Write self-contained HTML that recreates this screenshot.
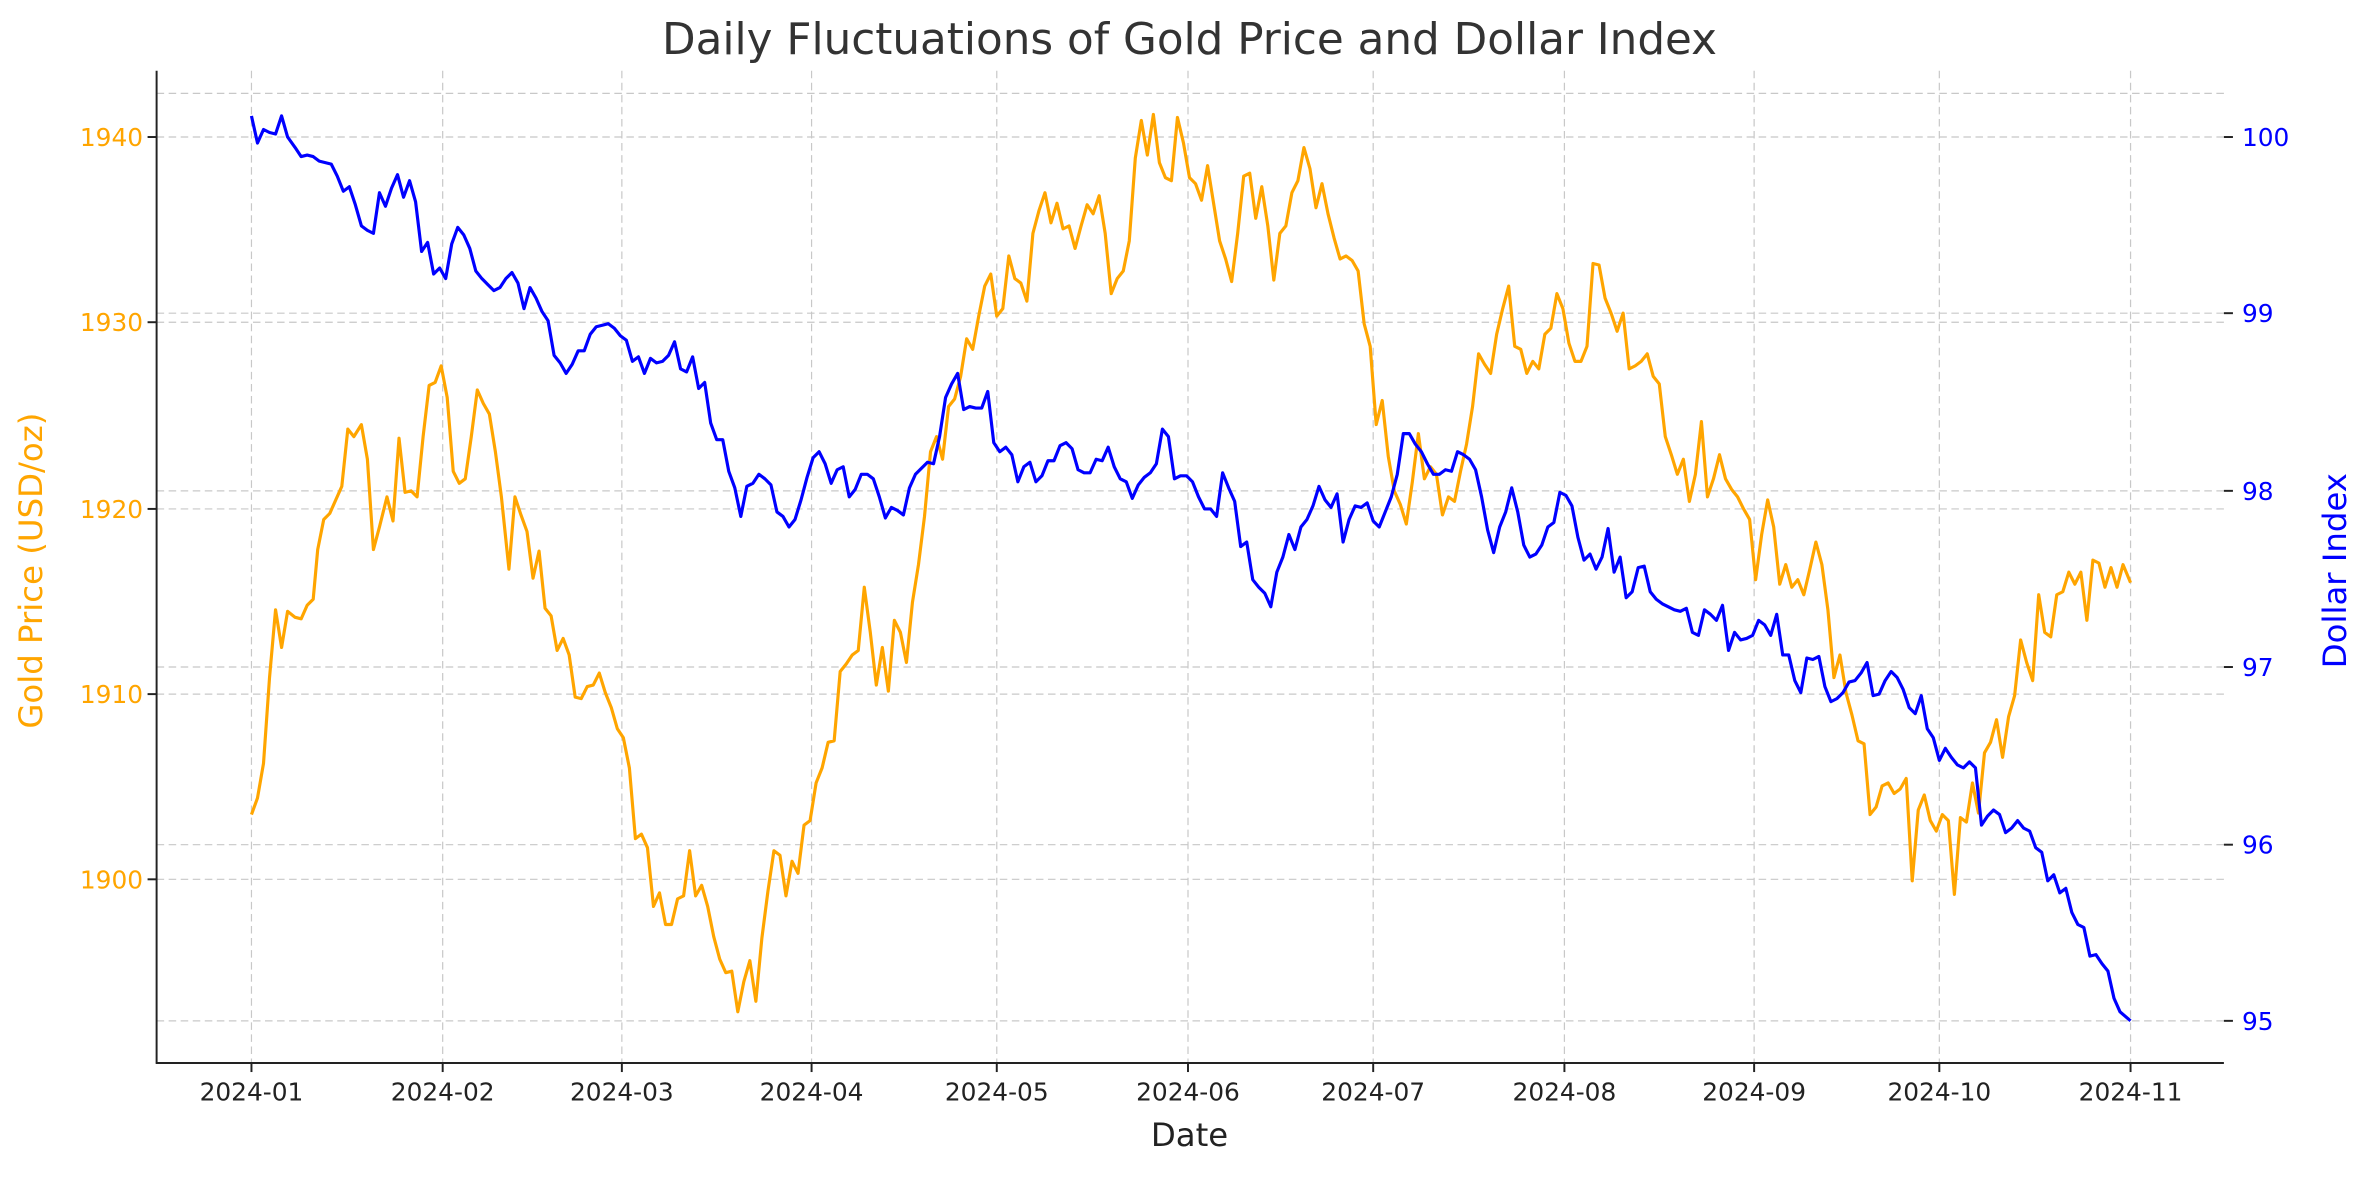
<!DOCTYPE html>
<html><head><meta charset="utf-8"><style>
html,body{margin:0;padding:0;background:#fff}
svg{display:block}
text{font-family:"DejaVu Sans","Liberation Sans",sans-serif}
</style></head><body>
<svg width="2379" height="1180" viewBox="0 0 1580 783.7" xmlns="http://www.w3.org/2000/svg">
<rect width="1580" height="784" fill="#fff"/>
<g stroke="#c8c8c8" stroke-width="0.8" stroke-dasharray="5,3" fill="none">
<line x1="104" x2="1477" y1="584" y2="584"/><line x1="104" x2="1477" y1="461" y2="461"/><line x1="104" x2="1477" y1="338" y2="338"/><line x1="104" x2="1477" y1="214" y2="214"/><line x1="104" x2="1477" y1="91" y2="91"/>
<line x1="104" x2="1477" y1="678" y2="678"/><line x1="104" x2="1477" y1="561" y2="561"/><line x1="104" x2="1477" y1="443" y2="443"/><line x1="104" x2="1477" y1="326" y2="326"/><line x1="104" x2="1477" y1="208" y2="208"/><line x1="104" x2="1477" y1="62" y2="62"/>
<line x1="167" x2="167" y1="47" y2="706"/><line x1="294" x2="294" y1="47" y2="706"/><line x1="413" x2="413" y1="47" y2="706"/><line x1="539" x2="539" y1="47" y2="706"/><line x1="662" x2="662" y1="47" y2="706"/><line x1="789" x2="789" y1="47" y2="706"/><line x1="912" x2="912" y1="47" y2="706"/><line x1="1039" x2="1039" y1="47" y2="706"/><line x1="1165" x2="1165" y1="47" y2="706"/><line x1="1288" x2="1288" y1="47" y2="706"/><line x1="1415" x2="1415" y1="47" y2="706"/>
</g>
<polyline fill="none" stroke="#FFA500" stroke-width="2.1" stroke-linejoin="round" points="167,541 171,530 175,507 179,450 183,405 187,430 191,406 196,410 200,411 204,402 208,398 211,365 215,345 219,341 223,332 227,323 231,285 235,290 240,282 244,305 248,365 252,350 257,330 261,346 265,291 269,327 273,326 277,330 281,290 285,256 289,254 293,243 297,264 301,313 305,321 309,318 313,290 317,259 321,268 325,275 329,300 333,330 338,378 342,330 346,342 350,353 354,384 358,366 362,404 366,409 370,432 374,424 378,435 382,463 386,464 390,456 394,455 398,447 402,460 406,470 410,484 414,490 418,510 422,557 426,554 430,563 434,602 438,593 442,614 446,614 450,597 454,595 458,565 462,595 466,588 470,602 474,622 478,637 482,646 486,645 490,672 494,652 498,638 502,665 506,623 510,592 514,565 518,568 522,595 526,572 530,580 534,548 538,545 542,520 546,510 550,493 554,492 558,446 562,441 566,435 570,432 574,390 578,420 582,455 586,430 590,459 594,412 598,420 602,440 606,400 610,375 614,343 618,300 622,290 626,305 630,270 634,265 638,250 642,225 646,232 650,210 654,190 658,182 662,210 666,205 670,170 674,185 678,188 682,200 686,155 690,140 694,128 698,148 702,135 706,152 710,150 714,165 718,150 722,136 726,142 730,130 734,155 738,195 742,185 746,180 750,160 754,105 758,80 762,103 766,76 770,108 774,118 778,120 782,78 786,95 790,118 794,122 798,133 802,110 806,135 810,160 814,172 818,187 822,155 826,117 830,115 834,145 838,124 842,150 846,186 850,155 854,150 858,128 862,120 866,98 870,112 874,138 878,122 882,142 886,158 890,172 894,170 898,173 902,180 906,215 910,230 914,282 918,266 922,303 926,326 930,335 934,348 938,320 942,288 946,318 950,310 954,315 958,342 962,330 966,333 970,313 974,295 978,270 982,235 986,242 990,248 994,222 998,205 1002,190 1006,230 1010,232 1014,248 1018,240 1022,245 1026,222 1030,218 1034,195 1038,205 1042,228 1046,240 1050,240 1054,230 1058,175 1062,176 1066,198 1070,208 1074,220 1078,208 1082,245 1086,243 1090,240 1094,235 1098,250 1102,255 1106,290 1110,302 1114,315 1118,305 1122,333 1126,315 1130,280 1134,330 1138,318 1142,302 1146,318 1150,325 1154,330 1158,338 1162,345 1166,385 1170,355 1174,332 1178,350 1182,388 1186,375 1190,390 1194,385 1198,395 1202,378 1206,360 1210,375 1214,405 1218,450 1222,435 1226,460 1230,475 1234,492 1238,494 1242,541 1246,536 1250,522 1254,520 1258,527 1262,524 1266,517 1270,585 1274,538 1278,528 1282,545 1286,552 1290,541 1294,545 1298,594 1302,543 1306,546 1310,520 1314,540 1318,500 1322,493 1326,478 1330,503 1334,476 1338,462 1342,425 1346,440 1350,452 1354,395 1358,420 1362,423 1366,395 1370,393 1374,380 1378,388 1382,380 1386,412 1390,372 1394,374 1398,390 1402,377 1406,390 1410,375 1415,387"/>
<polyline fill="none" stroke="#0000FF" stroke-width="2.1" stroke-linejoin="round" points="167,77 171,95 175,86 179,88 183,89 187,77 191,91 196,98 200,104 204,103 208,104 212,107 216,108 220,109 224,117 228,127 232,124 236,136 240,150 244,153 248,155 252,128 256,137 260,125 264,116 268,131 272,120 276,134 280,167 284,161 288,182 292,178 296,185 300,162 304,151 308,156 312,165 316,180 320,185 324,189 328,193 332,191 336,185 340,181 344,188 348,205 352,191 356,198 360,207 364,213 368,236 372,241 376,248 380,242 384,233 388,233 392,222 396,217 400,216 404,215 408,218 412,223 416,226 420,240 424,237 428,248 432,238 436,241 440,240 444,236 448,227 452,245 456,247 460,237 464,258 468,254 472,281 476,292 480,292 484,313 488,324 492,343 496,323 500,321 504,315 508,318 512,322 516,340 520,343 524,350 528,345 532,332 536,317 540,304 544,300 548,308 552,321 556,312 560,310 564,330 568,325 572,315 576,315 580,318 584,330 588,344 592,337 596,339 600,342 604,324 608,315 612,311 616,307 620,308 624,290 628,264 632,255 636,248 640,272 644,270 648,271 652,271 656,260 660,294 664,300 668,297 672,302 676,320 680,310 684,307 688,320 692,316 696,306 700,306 704,296 708,294 712,298 716,312 720,314 724,314 728,305 732,306 736,297 740,310 744,318 748,320 752,331 756,322 760,317 764,314 768,308 772,285 776,290 780,318 784,316 788,316 792,320 796,330 800,338 804,338 808,343 812,314 816,324 820,333 824,363 828,360 832,385 836,390 840,394 844,403 848,380 852,370 856,355 860,365 864,350 868,345 872,336 876,323 880,332 884,337 888,328 892,360 896,345 900,336 904,337 908,334 912,346 916,350 920,340 924,330 928,315 932,288 936,288 940,295 944,300 948,308 952,315 956,315 960,312 964,313 968,300 972,302 976,305 980,312 984,330 988,352 992,367 996,350 1000,340 1004,324 1008,340 1012,362 1016,370 1020,368 1024,362 1028,350 1032,347 1036,327 1040,329 1044,336 1048,357 1052,372 1056,368 1060,378 1064,370 1068,351 1072,380 1076,370 1080,397 1084,393 1088,377 1092,376 1096,393 1100,398 1104,401 1108,403 1112,405 1116,406 1120,404 1124,420 1128,422 1132,405 1136,408 1140,412 1144,402 1148,432 1152,420 1156,425 1160,424 1164,422 1168,412 1172,415 1176,422 1180,408 1184,435 1188,435 1192,452 1196,460 1200,437 1204,438 1208,436 1212,456 1216,466 1220,464 1224,460 1228,453 1232,452 1236,447 1240,440 1244,462 1248,461 1252,452 1256,446 1260,450 1264,458 1268,470 1272,474 1276,462 1280,484 1284,490 1288,505 1292,497 1296,503 1300,508 1304,510 1308,506 1312,510 1316,548 1320,542 1324,538 1328,541 1332,553 1336,550 1340,545 1344,550 1348,552 1352,563 1356,566 1360,585 1364,581 1368,593 1372,590 1376,606 1380,614 1384,616 1388,635 1392,634 1396,640 1400,645 1404,663 1408,672 1415,678"/>
<g stroke="#222" stroke-width="1.3">
<line x1="104" y1="47" x2="104" y2="706.5"/><line x1="103.5" y1="706" x2="1477" y2="706"/>
<line x1="98" x2="104" y1="584" y2="584"/><line x1="98" x2="104" y1="461" y2="461"/><line x1="98" x2="104" y1="338" y2="338"/><line x1="98" x2="104" y1="214" y2="214"/><line x1="98" x2="104" y1="91" y2="91"/>
<line x1="1477" x2="1483" y1="678" y2="678"/><line x1="1477" x2="1483" y1="561" y2="561"/><line x1="1477" x2="1483" y1="443" y2="443"/><line x1="1477" x2="1483" y1="326" y2="326"/><line x1="1477" x2="1483" y1="208" y2="208"/><line x1="1477" x2="1483" y1="91" y2="91"/>
<line x1="167" x2="167" y1="706" y2="712"/><line x1="294" x2="294" y1="706" y2="712"/><line x1="413" x2="413" y1="706" y2="712"/><line x1="539" x2="539" y1="706" y2="712"/><line x1="662" x2="662" y1="706" y2="712"/><line x1="789" x2="789" y1="706" y2="712"/><line x1="912" x2="912" y1="706" y2="712"/><line x1="1039" x2="1039" y1="706" y2="712"/><line x1="1165" x2="1165" y1="706" y2="712"/><line x1="1288" x2="1288" y1="706" y2="712"/><line x1="1415" x2="1415" y1="706" y2="712"/>
</g>
<g font-size="16.5" fill="#FFA500" text-anchor="end">
<text x="95" y="590">1900</text><text x="95" y="467">1910</text><text x="95" y="344">1920</text><text x="95" y="220">1930</text><text x="95" y="97">1940</text>
</g>
<g font-size="16.5" fill="#0000FF">
<text x="1489" y="684">95</text><text x="1489" y="567">96</text><text x="1489" y="449">97</text><text x="1489" y="332">98</text><text x="1489" y="214">99</text><text x="1489" y="97">100</text>
</g>
<g font-size="16.5" fill="#222" text-anchor="middle">
<text x="167" y="731">2024-01</text><text x="294" y="731">2024-02</text><text x="413" y="731">2024-03</text><text x="539" y="731">2024-04</text><text x="662" y="731">2024-05</text><text x="789" y="731">2024-06</text><text x="912" y="731">2024-07</text><text x="1039" y="731">2024-08</text><text x="1165" y="731">2024-09</text><text x="1288" y="731">2024-10</text><text x="1415" y="731">2024-11</text>
</g>
<text x="790" y="761" font-size="21.5" fill="#222" text-anchor="middle">Date</text>
<text x="790" y="36" font-size="29" fill="#333" text-anchor="middle">Daily Fluctuations of Gold Price and Dollar Index</text>
<text transform="translate(28,379) rotate(-90)" font-size="21.5" fill="#FFA500" text-anchor="middle">Gold Price (USD/oz)</text>
<text transform="translate(1558,379) rotate(-90)" font-size="21.5" fill="#0000FF" text-anchor="middle">Dollar Index</text>
</svg>
</body></html>
